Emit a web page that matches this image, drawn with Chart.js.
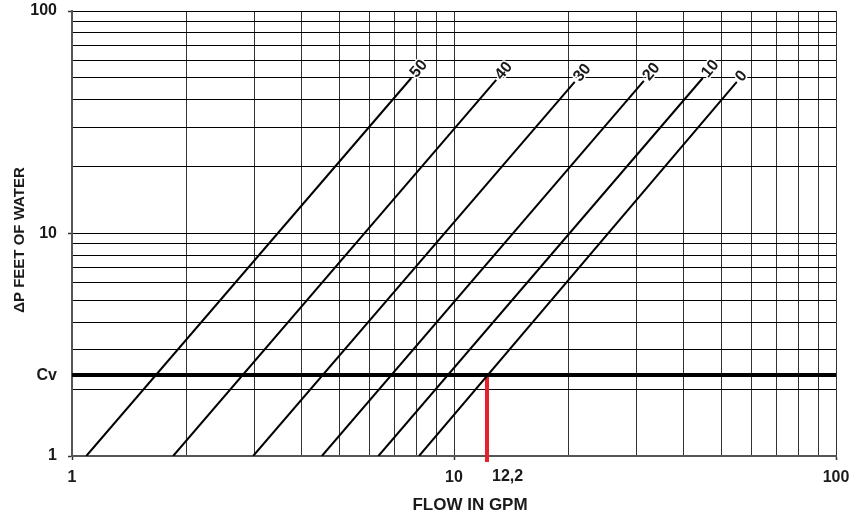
<!DOCTYPE html>
<html>
<head>
<meta charset="utf-8">
<title>Flow vs pressure drop</title>
<script src="https://cdn.jsdelivr.net/npm/chart.js@4.4.1/dist/chart.umd.min.js"></script>
<style>
  html, body { margin: 0; padding: 0; background: #fff; }
  #wrap { width: 853px; height: 516px; }
</style>
</head>
<body>
<div id="wrap"><canvas id="chart" width="853" height="516"></canvas></div>
<script>
// Valve curves: flow (GPM) where each curve crosses ΔP = 1 ft, and the top end of each curve
const curveLabels   = ['50', '40', '30', '20', '10', '0'];
const flowAtOneFoot = [1.09, 1.84, 2.98, 4.51, 6.34, 8.1];
const curveTopFlow  = [7.73, 12.9, 20.7, 31.4, 44.8, 55.0];
const curveTopDrop  = [50, 49, 48, 48.5, 50, 48];

// Reference pressure drop (Cv line) and the marked flow
const cvDrop = 2.31;
const markedFlow = 12.2;
const markedFlowLabel = '12,2';
const markedSpan = [0.94, 2.36];   // ΔP range of the red marker

// Log grid and labelled ticks
const gridValues   = [1, 2, 3, 4, 5, 6, 7, 8, 9, 10, 20, 30, 40, 50, 60, 70, 80, 90, 100];
const majorValues  = [1, 10, 100];
const xTickValues  = [1, 10, 100];
const xTickTexts   = ['1', '10', '100'];
const yTickValues  = [1, cvDrop, 10, 100];
const yTickTexts   = ['1', 'Cv', '10', '100'];

const xTitle = 'FLOW IN GPM';
const yTitle = 'ΔP FEET OF WATER';

const FONT = '"Liberation Sans", Arial, Helvetica, sans-serif';
const INK = '#1a1a1a';
const X_LABEL_MID = 21;   // distance from the x axis to the middle of its tick labels

const datasets = curveLabels.map((lbl, i) => ({
  label: lbl,
  data: [{ x: flowAtOneFoot[i], y: 1 }, { x: curveTopFlow[i], y: curveTopDrop[i] }],
  showLine: true,
  borderColor: '#000',
  borderWidth: 2,
  pointRadius: 0,
  fill: false
}));
datasets.push({
  label: 'Cv',
  data: [{ x: 1, y: cvDrop }, { x: 100, y: cvDrop }],
  showLine: true,
  borderColor: '#000',
  borderWidth: 4,
  pointRadius: 0,
  borderCapStyle: 'butt'
});
datasets.push({
  label: 'marked',
  data: [{ x: markedFlow, y: markedSpan[0] }, { x: markedFlow, y: markedSpan[1] }],
  showLine: true,
  borderColor: '#e8202a',
  borderWidth: 4,
  pointRadius: 0,
  borderCapStyle: 'butt',
  clip: false
});

const isMajor = v => majorValues.includes(v);

// Curve labels, the marked flow label and the axis titles
const annotate = {
  id: 'annotate',
  afterDatasetsDraw(chart) {
    const { ctx, chartArea, scales: { x, y } } = chart;
    ctx.save();
    ctx.fillStyle = INK;

    ctx.font = 'bold 16px ' + FONT;
    ctx.textAlign = 'left';
    ctx.textBaseline = 'middle';
    curveLabels.forEach((t, i) => {
      const px = x.getPixelForValue(curveTopFlow[i]);
      const py = y.getPixelForValue(curveTopDrop[i]);
      ctx.save();
      ctx.translate(px, py);
      ctx.rotate(-50 * Math.PI / 180);
      ctx.lineWidth = 3;
      ctx.lineJoin = 'round';
      ctx.strokeStyle = '#fff';
      ctx.strokeText(t, 3, 0);
      ctx.fillText(t, 3, 0);
      ctx.restore();
    });

    // "12,2" sits just right of the red marker, on the x tick label line
    ctx.font = 'bold 16px ' + FONT;
    ctx.textAlign = 'left';
    ctx.textBaseline = 'middle';
    ctx.fillText(markedFlowLabel, x.getPixelForValue(markedFlow) + 5, chartArea.bottom + X_LABEL_MID);

    ctx.textAlign = 'center';
    ctx.font = 'bold 17px ' + FONT;
    ctx.fillText(xTitle, 470, 505);

    ctx.save();
    ctx.translate(20, 240);
    ctx.rotate(-Math.PI / 2);
    ctx.font = 'bold 15px ' + FONT;
    ctx.fillText(yTitle, 0, 0);
    ctx.restore();

    ctx.restore();
  }
};

new Chart(document.getElementById('chart'), {
  type: 'scatter',
  data: { datasets },
  plugins: [annotate],
  options: {
    responsive: false,
    animation: false,
    layout: { padding: { left: 0, right: 17, top: 11, bottom: 0 } },
    plugins: { legend: { display: false }, tooltip: { enabled: false } },
    elements: { point: { radius: 0 }, line: { tension: 0 } },
    scales: {
      x: {
        type: 'logarithmic',
        min: 1,
        max: 100,
        afterBuildTicks: s => { s.ticks = gridValues.map(v => ({ value: v, major: isMajor(v) })); },
        afterFit: s => { s.height = 60; s.paddingLeft = 0; s.paddingRight = 0; },
        border: { color: '#555', width: 2 },
        grid: {
          color: '#333',
          lineWidth: 1,
          tickLength: 4,
          tickWidth: 1.5,
          tickColor: c => (c.tick && isMajor(c.tick.value)) ? '#333' : 'rgba(0,0,0,0)'
        },
        ticks: {
          autoSkip: false,
          maxRotation: 0,
          minRotation: 0,
          padding: 8,
          color: INK,
          font: { family: FONT, size: 16, weight: 'bold' },
          callback: v => { const k = xTickValues.indexOf(v); return k >= 0 ? xTickTexts[k] : ''; }
        }
      },
      y: {
        type: 'logarithmic',
        min: 1,
        max: 100,
        afterBuildTicks: s => {
          s.ticks = gridValues.concat([cvDrop]).sort((a, b) => a - b).map(v => ({ value: v, major: isMajor(v) }));
        },
        afterFit: s => { s.width = 72; s.paddingTop = 0; s.paddingBottom = 0; },
        border: { color: '#555', width: 2 },
        grid: {
          color: c => (c.tick && c.tick.value === cvDrop) ? 'rgba(0,0,0,0)' : '#000',
          lineWidth: 1,
          tickLength: 4,
          tickWidth: 1.5,
          tickColor: c => (c.tick && isMajor(c.tick.value)) ? '#333' : 'rgba(0,0,0,0)'
        },
        ticks: {
          autoSkip: false,
          padding: 11,
          color: INK,
          font: { family: FONT, size: 16, weight: 'bold' },
          callback: v => { const k = yTickValues.indexOf(v); return k >= 0 ? yTickTexts[k] : ''; }
        }
      }
    }
  }
});
</script>
</body>
</html>
